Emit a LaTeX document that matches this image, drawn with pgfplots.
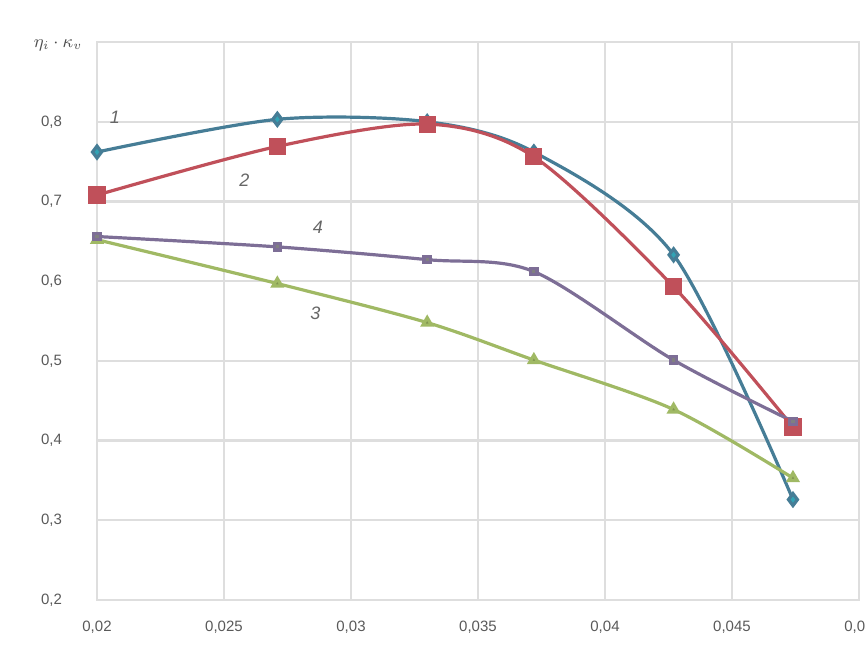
\documentclass[border=0pt]{standalone}
\usepackage{pgfplots}
\pgfplotsset{compat=1.18}
\usepackage{fontspec}
\setmainfont{Liberation Sans}
\definecolor{cA}{RGB}{70,125,150}
\definecolor{cB}{RGB}{192,80,90}
\definecolor{cC}{RGB}{160,185,100}
\definecolor{cD}{RGB}{125,110,150}
\definecolor{gridc}{RGB}{222,222,222}
\begin{document}
\begin{tikzpicture}
\begin{axis}[
  scale only axis, width=381pt, height=279pt,
  xmin=0.02, xmax=0.05, ymin=0.2, ymax=0.9,
  xtick={0.02,0.025,0.03,0.035,0.04,0.045,0.05},
  xticklabels={{0,02},{0,025},{0,03},{0,035},{0,04},{0,045},{0,05}},
  ytick={0.2,0.3,0.4,0.5,0.6,0.7,0.8,0.9},
  yticklabels={{0,2},{0,3},{0,4},{0,5},{0,6},{0,7},{0,8},{}},
  grid=major, major grid style={gridc, line width=1.2pt},
  axis line style={gridc, line width=1.2pt},
  tick style={draw=none},
  tick label style={font=\fontsize{7.5}{8}\selectfont, text=black!65},
  xticklabel style={yshift=-7pt},
  yticklabel style={xshift=-14pt},
  /pgf/number format/assume math mode=true,
  clip=false,
]
\addplot[cA, line width=1.6pt, smooth, mark=diamond*, mark size=3pt, mark options={fill=cA!70!cyan}] coordinates {
(0.02,0.762) (0.0271,0.803) (0.0330,0.800) (0.0372,0.762) (0.0427,0.633) (0.0474,0.326)};
\addplot[cB, line width=1.6pt, smooth, mark=square*, mark size=3.5pt] coordinates {
(0.02,0.708) (0.0271,0.769) (0.0330,0.797) (0.0372,0.756) (0.0427,0.593) (0.0474,0.417)};
\addplot[cC, line width=1.6pt, smooth, mark=triangle*, mark size=2.5pt, mark options={fill=cC!80!black}] coordinates {
(0.02,0.652) (0.0271,0.597) (0.0330,0.548) (0.0372,0.501) (0.0427,0.439) (0.0474,0.353)};
\addplot[cD, line width=1.6pt, smooth, mark=square*, mark size=1.6pt, mark options={fill=gray}] coordinates {
(0.02,0.656) (0.0271,0.643) (0.0330,0.627) (0.0372,0.612) (0.0427,0.501) (0.0474,0.424)};
\node[font=\itshape\fontsize{9}{9}\selectfont, text=black!60] at (axis cs:0.0207,0.805) {1};
\node[font=\itshape\fontsize{9}{9}\selectfont, text=black!60] at (axis cs:0.0258,0.727) {2};
\node[font=\itshape\fontsize{9}{9}\selectfont, text=black!60] at (axis cs:0.0286,0.560) {3};
\node[font=\itshape\fontsize{9}{9}\selectfont, text=black!60] at (axis cs:0.0287,0.668) {4};
\node[anchor=east, font=\fontsize{9}{9}\selectfont, text=black!70] at (axis cs:0.0197,0.896) {$\eta_{i}\cdot\kappa_{v}$};
\end{axis}
\pgfresetboundingbox
\useasboundingbox (-48.5pt,-26.5pt) rectangle (384.5pt,300pt);
\end{tikzpicture}
\end{document}
